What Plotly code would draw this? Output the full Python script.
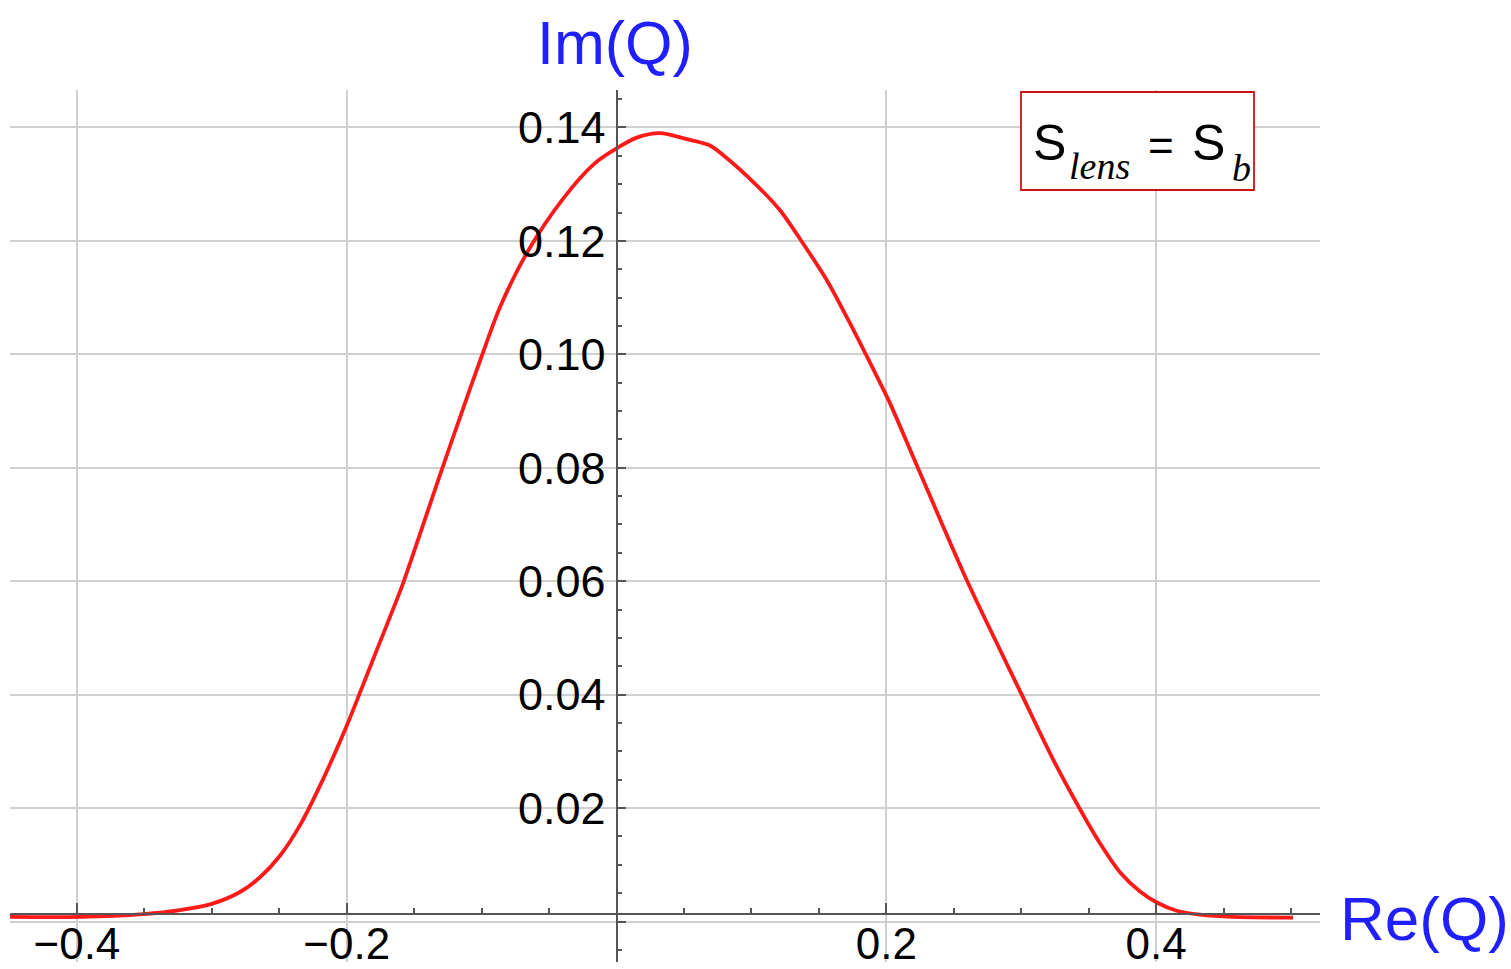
import plotly.graph_objects as go

# ---- data ----
re_q = [-0.45, -0.3977, -0.3508, -0.3236, -0.3001, -0.2791, -0.2643, -0.2495, -0.2346,
        -0.2173, -0.2, -0.1914, -0.1778, -0.1629, -0.1575, -0.1457, -0.1309, -0.116,
        -0.0999, -0.0864, -0.0654, -0.0394, -0.017, 0.0, 0.015, 0.032, 0.0545, 0.0693,
        0.0792, 0.1039, 0.1212, 0.1373, 0.1558, 0.1706, 0.1842, 0.1953, 0.2027, 0.2225,
        0.2596, 0.3004, 0.3238, 0.3436, 0.3584, 0.3732, 0.3881, 0.4009, 0.4153, 0.4325,
        0.457, 0.5015]
im_q = [0.0008, 0.0008, 0.0013, 0.0020, 0.0031, 0.0052, 0.0078, 0.0116, 0.0170,
        0.0252, 0.0345, 0.0396, 0.0478, 0.0567, 0.0601, 0.0683, 0.0787, 0.0889,
        0.0997, 0.1083, 0.1183, 0.1275, 0.1335, 0.1363, 0.1382, 0.1390, 0.1378, 0.1368,
        0.1351, 0.1298, 0.1254, 0.1199, 0.1131, 0.1066, 0.1003, 0.0950, 0.0914, 0.0805,
        0.0602, 0.0400, 0.0285, 0.0198, 0.0138, 0.0087, 0.0053, 0.0033, 0.0019, 0.0012,
        0.0008, 0.0007]

x_tickvals = [-0.4, -0.2, 0.2, 0.4]
x_ticktext = ["\u22120.4", "\u22120.2", "0.2", "0.4"]
y_tickvals = [0.0, 0.02, 0.04, 0.06, 0.08, 0.10, 0.12, 0.14]
y_ticktext = ["", "0.02", "0.04", "0.06", "0.08", "0.10", "0.12", "0.14"]

x_range = [-0.4496, 0.5215]
y_range = [-0.00714, 0.1466]
x_axis_cross_y = 0.0014

W, H = 1511, 969
L, R, T, B = 10, 1320, 90, 962

def px(xp):
    return (xp - L) / (R - L)

def py(yp):
    return (B - yp) / (B - T)

blue = "#1f1fff"
axis_col = "#555555"
grid_col = "#d0d0d0"

fig = go.Figure()
fig.add_trace(go.Scatter(x=re_q, y=im_q, mode="lines",
                         line=dict(color="#ff1a1a", width=3.8, shape="spline", smoothing=0.8),
                         showlegend=False, hoverinfo="skip"))

xpos = (x_axis_cross_y - y_range[0]) / (y_range[1] - y_range[0])
ypos = (0 - x_range[0]) / (x_range[1] - x_range[0])

fig.update_layout(
    width=W, height=H,
    margin=dict(l=L, r=W - R, t=T, b=H - B, pad=0, autoexpand=False),
    paper_bgcolor="white", plot_bgcolor="white",
    font=dict(family="Liberation Sans, Arial", color="black"),
    xaxis=dict(range=x_range, anchor="free", position=xpos, showline=True,
               automargin=False,
               linecolor=axis_col, linewidth=1.8, zeroline=False,
               tickmode="array", tickvals=x_tickvals, ticktext=x_ticktext,
               ticks="inside", ticklen=10, tickwidth=1.8, tickcolor=axis_col,
               tickfont=dict(size=44, color="black"), ticklabelstandoff=-8,
               showgrid=True, gridcolor=grid_col, gridwidth=1.5,
               minor=dict(tick0=0, dtick=0.05, ticks="inside", ticklen=5,
                          tickwidth=1.5, tickcolor=axis_col, showgrid=False)),
    yaxis=dict(range=y_range, anchor="free", position=ypos, showline=True,
               automargin=False,
               linecolor=axis_col, linewidth=1.8, zeroline=False,
               tickmode="array", tickvals=y_tickvals, ticktext=y_ticktext,
               ticks="inside", ticklen=9, tickwidth=1.8, tickcolor=axis_col,
               tickfont=dict(size=45, color="black"), ticklabelstandoff=1,
               showgrid=True, gridcolor=grid_col, gridwidth=1.5,
               minor=dict(tick0=0, dtick=0.005, ticks="inside", ticklen=5,
                          tickwidth=1.5, tickcolor=axis_col, showgrid=False)),
)

# axis titles
fig.add_annotation(text="Im(Q)", xref="paper", yref="paper", x=px(615), y=py(43),
                   xanchor="center", yanchor="middle", showarrow=False,
                   font=dict(size=61, color=blue, family="Liberation Sans, Arial"))
fig.add_annotation(text="Re(Q)", xref="paper", yref="paper", x=px(1424), y=py(918),
                   xanchor="center", yanchor="middle", showarrow=False,
                   font=dict(size=62, color=blue, family="Liberation Sans, Arial"))

# label box
fig.add_shape(type="rect", xref="paper", yref="paper",
              x0=px(1021), x1=px(1254), y0=py(190), y1=py(92),
              line=dict(color="#c81414", width=1.8), fillcolor="white", layer="above")
box_parts = [
    ("S", 1049, 143, 50, "Liberation Sans, Arial", False),
    ("lens", 1099, 166, 38, "Liberation Serif, Times New Roman", True),
    ("=", 1161, 145, 44, "Liberation Sans, Arial", False),
    ("S", 1208, 143, 50, "Liberation Sans, Arial", False),
    ("b", 1241, 168, 38, "Liberation Serif, Times New Roman", True),
]
for txt, cx, cy, sz, fam, ital in box_parts:
    fig.add_annotation(text=f"<i>{txt}</i>" if ital else txt, xref="paper", yref="paper",
                       x=px(cx), y=py(cy), xanchor="center", yanchor="middle",
                       showarrow=False, font=dict(size=sz, family=fam, color="black"))

fig.write_html("out.html")
